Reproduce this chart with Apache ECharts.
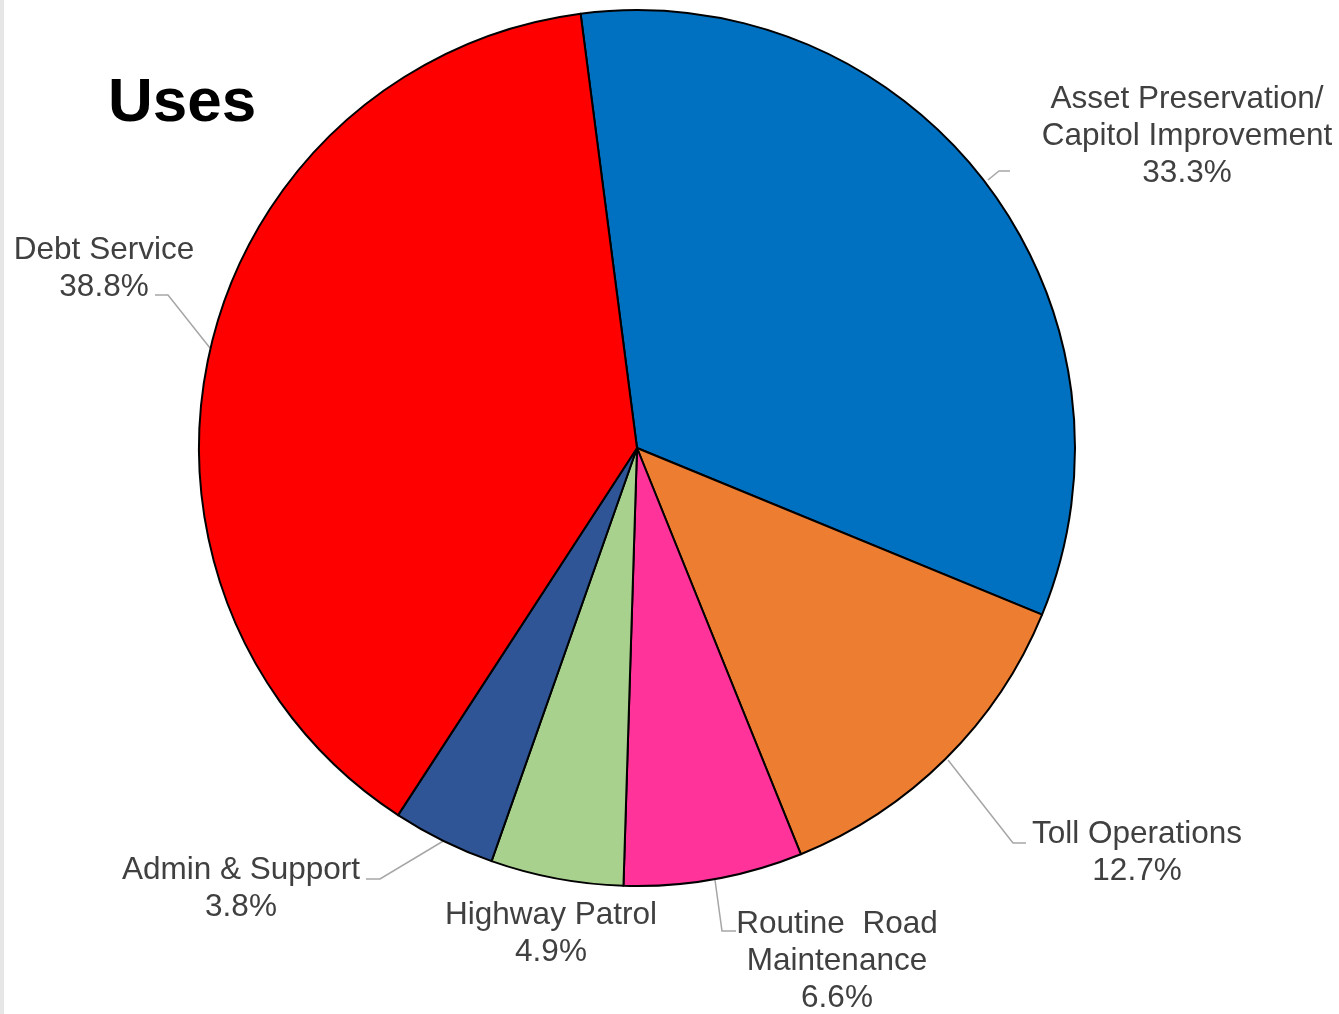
<!DOCTYPE html>
<html>
<head>
<meta charset="utf-8">
<script src="https://cdn.jsdelivr.net/npm/echarts@6/dist/echarts.min.js"></script>
<style>
  html, body { margin: 0; padding: 0; background: #fff; }
  #chart { width: 1339px; height: 1014px; }
</style>
</head>
<body>
<div id="chart"></div>
<script>
const categories = [
  'Asset Preservation/\nCapitol Improvement',
  'Toll Operations',
  'Routine  Road\nMaintenance',
  'Highway Patrol',
  'Admin & Support',
  'Debt Service'
];
const shares = [33.3, 12.7, 6.6, 4.9, 3.8, 38.8];
const colors = ['#0070C0', '#ED7D31', '#FF3399', '#A9D18E', '#2F5597', '#FF0000'];

// label placement (text block centre) and leader lines, per slice
const labelSpots = [
  { x: 1187, y: 136, line: [[988, 180], [999, 171], [1010, 171]] },
  { x: 1137, y: 853, line: [[948, 760], [1013, 843], [1026, 843]] },
  { x: 837, y: 961, line: [[715, 880], [722, 931], [736, 931]] },
  { x: 551, y: 934, line: null },
  { x: 241, y: 889, line: [[445, 840], [380, 879], [366, 879]] },
  { x: 104, y: 269, line: [[210, 348], [168, 295], [155, 295]] }
];

const chart = echarts.init(document.getElementById('chart'));

const option = {
  backgroundColor: '#fff',
  animation: false,
  graphic: [
    {
      type: 'rect',
      left: 0, top: 0,
      shape: { width: 4, height: 1014 },
      style: { fill: '#e6e6e6' }
    },
    {
      type: 'text',
      left: 108,
      top: 73,
      style: {
        text: 'Uses',
        font: 'bold 62px "Liberation Sans", Arial, sans-serif',
        fill: '#000'
      }
    }
  ],
  series: [{
    type: 'pie',
    center: [637, 448],
    radius: [0, 438],
    startAngle: 97.4,
    clockwise: true,
    avoidLabelOverlap: false,
    itemStyle: { borderColor: '#000', borderWidth: 2 },
    label: {
      show: true,
      formatter: p => p.name + '\n' + p.value.toFixed(1) + '%',
      fontFamily: '"Liberation Sans", Arial, sans-serif',
      fontSize: 31.5,
      lineHeight: 37,
      color: '#404040',
      align: 'center'
    },
    labelLine: {
      show: true,
      lineStyle: { color: '#a6a6a6', width: 1.5 }
    },
    labelLayout: params => {
      const s = labelSpots[params.dataIndex];
      const out = { x: s.x, y: s.y, align: 'center', verticalAlign: 'middle' };
      if (s.line) out.labelLinePoints = s.line;
      return out;
    },
    data: categories.map((name, i) => ({
      name: name,
      value: shares[i],
      itemStyle: { color: colors[i] },
      labelLine: { show: labelSpots[i].line !== null }
    }))
  }]
};

chart.setOption(option);
</script>
</body>
</html>
